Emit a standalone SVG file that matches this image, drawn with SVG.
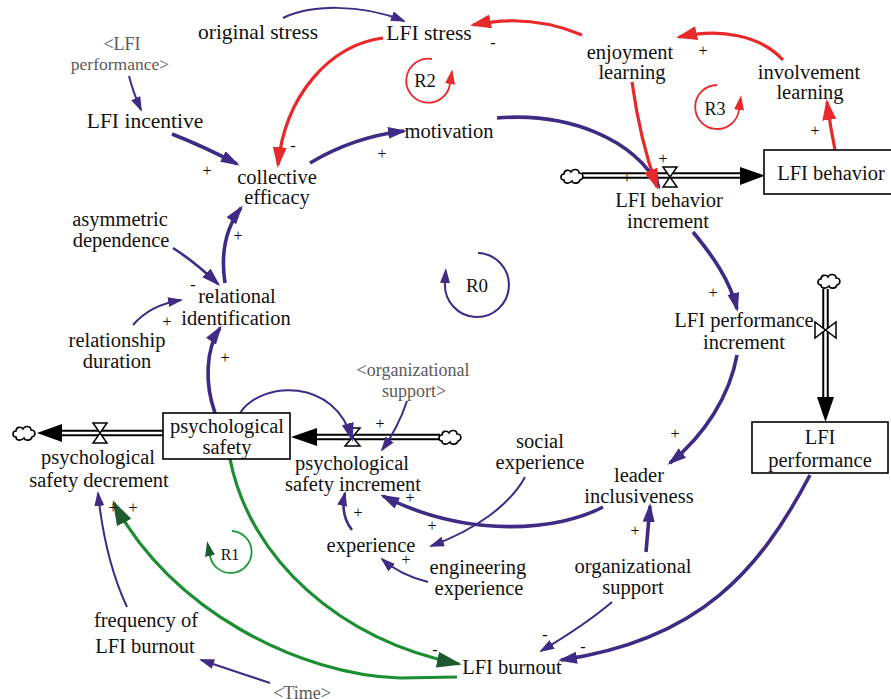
<svg xmlns="http://www.w3.org/2000/svg" width="891" height="699" viewBox="0 0 891 699">
<style>
text{font-family:"Liberation Serif","Times New Roman",serif;font-size:20.5px;fill:#111;text-anchor:middle}
.g{fill:#5a5a5a;font-size:18px}
.s{font-size:16px;fill:#000}
.lp{fill:none;stroke:#3f2a84;stroke-width:3.6}
.lpt{fill:none;stroke:#3f2a84;stroke-width:2}
.lr{fill:none;stroke:#e8282b;stroke-width:3.2}
.lg{fill:none;stroke:#1c8d32;stroke-width:3.2}
.box{fill:#fff;stroke:#000;stroke-width:1.6}
.po{fill:none;stroke:#000;stroke-width:6.5}
.pi{fill:none;stroke:#fff;stroke-width:2.5}
.valve{fill:#fff;stroke:#000;stroke-width:1.5}
.cl{fill:#fff;stroke:#000;stroke-width:1.6}
</style>
<defs>
<marker id="ap" markerUnits="userSpaceOnUse" markerWidth="20" markerHeight="14" refX="16" refY="6" orient="auto"><path d="M0,0 L19,6 L0,12 z" fill="#3f2a84"/></marker>
<marker id="aps" markerUnits="userSpaceOnUse" markerWidth="16" markerHeight="12" refX="13" refY="5" orient="auto"><path d="M0,0 L15,5 L0,10 z" fill="#3f2a84"/></marker>
<marker id="ar" markerUnits="userSpaceOnUse" markerWidth="22" markerHeight="16" refX="18" refY="7" orient="auto"><path d="M0,0 L21,7 L0,14 z" fill="#e8282b"/></marker>
<marker id="ag" markerUnits="userSpaceOnUse" markerWidth="26" markerHeight="18" refX="22" refY="8" orient="auto"><path d="M0,0 L25,8 L0,16 z" fill="#1e5a2e"/></marker>
<marker id="alp" markerUnits="userSpaceOnUse" markerWidth="16" markerHeight="12" refX="0" refY="5" orient="auto"><path d="M0,0 L15,5 L0,10 z" fill="#3f2a84"/></marker>
<marker id="alr" markerUnits="userSpaceOnUse" markerWidth="16" markerHeight="12" refX="0" refY="5" orient="auto"><path d="M0,0 L15,5 L0,10 z" fill="#e8282b"/></marker>
<marker id="alg" markerUnits="userSpaceOnUse" markerWidth="16" markerHeight="12" refX="0" refY="5" orient="auto"><path d="M0,0 L15,5 L0,10 z" fill="#1e5a2e"/></marker>
<path id="cloud" d="M4,12 C0,12 0,6 4,6 C4,2 9,1 11,4 C13,0 19,1 19,5 C24,5 24,11 20,12 C19,16 13,16 12,13 C9,16 4,16 4,12 Z"/>
</defs>

<g id="pipes">
  <path class="po" d="M582 175.5 H742"/><path class="pi" d="M582 175.5 H743"/>
  <path d="M740 167 L765 175.5 L740 185 z" fill="#000"/>
  <use href="#cloud" class="cl" x="560" y="168"/>
  <path class="valve" d="M663 167 H677 L663 187 H677 Z"/>
  <path class="po" d="M60 433 H163"/><path class="pi" d="M59 433 H163"/>
  <path d="M62 424 L37 433 L62 442 z" fill="#000"/>
  <use href="#cloud" class="cl" x="12" y="425"/>
  <path class="valve" d="M93 423 H107 L93 443 H107 Z"/>
  <path class="po" d="M315 437 H440"/><path class="pi" d="M314 437 H440"/>
  <path d="M317 428 L291 437 L317 446 z" fill="#000"/>
  <use href="#cloud" class="cl" x="438" y="429"/>
  <path class="valve" d="M345 428 H360 L345 446 H360 Z"/>
  <path class="po" d="M825.5 289 V399"/><path class="pi" d="M825.5 289 V400"/>
  <path d="M817 397 L825.5 422 L834 397 z" fill="#000"/>
  <use href="#cloud" class="cl" x="817" y="273"/>
  <path class="valve" d="M815 322 V338 L836 322 V338 Z"/>
</g>

<g id="connectors">
  <path class="lpt" marker-end="url(#aps)" d="M129 76 Q133 92 141 110"/>
  <path class="lp" marker-end="url(#ap)" d="M172 134 Q205 147 237 164"/>
  <path class="lpt" marker-end="url(#aps)" d="M283 18 C310 5 360 3 404 21"/>
  <path class="lr" marker-end="url(#ar)" d="M383 38 C330 45 285 95 278 165"/>
  <path class="lp" marker-end="url(#ap)" d="M310 163 C340 145 370 135 404 131"/>
  <path class="lp" marker-end="url(#ap)" d="M497 118 C570 112 635 140 659 187"/>
  <path class="lr" marker-end="url(#ar)" d="M582 35 Q530 13 473 25"/>
  <path class="lr" marker-end="url(#ar)" d="M632 82 Q640 140 657 187"/>
  <path class="lr" marker-end="url(#ar)" d="M783 60 C760 35 720 28 679 37"/>
  <path class="lr" marker-end="url(#ar)" d="M835 150 Q830 125 827 102"/>
  <path class="lpt" style="stroke-width:2.6" marker-end="url(#ap)" d="M173 248 Q195 262 218 284"/>
  <path class="lpt" marker-end="url(#aps)" d="M133 325 Q150 305 181 300"/>
  <path class="lp" marker-end="url(#ap)" d="M225 283 C220 250 228 225 241 208"/>
  <path class="lp" marker-end="url(#ap)" d="M215 413 C205 385 205 350 220 328"/>
  <path class="lpt" marker-end="url(#ap)" d="M240 413 C262 380 335 378 352 439"/>
  <path class="lpt" marker-end="url(#aps)" d="M407 401 Q398 428 382 450"/>
  <path class="lp" marker-end="url(#ap)" d="M603 507 C560 530 470 540 383 496"/>
  <path class="lpt" marker-end="url(#aps)" d="M525 477 C510 505 475 530 431 546"/>
  <path class="lpt" marker-end="url(#aps)" d="M428 582 Q400 575 382 559"/>
  <path class="lpt" style="stroke-width:2.6" marker-end="url(#aps)" d="M352 530 Q340 515 345 493"/>
  <path class="lp" marker-end="url(#ap)" d="M693 232 C712 255 730 280 737 309"/>
  <path class="lp" marker-end="url(#ap)" d="M737 355 C730 395 705 435 670 463"/>
  <path class="lp" marker-end="url(#ap)" d="M646 552 Q648 530 650 506"/>
  <path class="lpt" marker-end="url(#aps)" d="M612 602 Q585 625 541 651"/>
  <path class="lp" marker-end="url(#ap)" d="M810 475 C760 570 700 640 561 660"/>
  <path class="lg" marker-end="url(#ag)" d="M230 459 C250 560 340 640 459 664"/>
  <path class="lg" marker-end="url(#ag)" d="M457 677 L400 678 C300 675 170 610 114 503"/>
  <path class="lpt" marker-end="url(#aps)" d="M127 607 Q105 560 98 493"/>
  <path class="lpt" marker-end="url(#aps)" d="M270 683 L201 660"/>

  <g id="polarities">
    <text class="s" x="207" y="176">+</text>
    <text class="s" x="293" y="151">-</text>
    <text class="s" x="382" y="159">+</text>
    <text class="s" x="493" y="48">-</text>
    <text class="s" x="703" y="56">+</text>
    <text class="s" x="663" y="164">+</text>
    <text class="s" x="627" y="183">+</text>
    <text class="s" x="815" y="136">+</text>
    <text class="s" x="193" y="290">-</text>
    <text class="s" x="167" y="327">+</text>
    <text class="s" x="238" y="241">+</text>
    <text class="s" x="225" y="363">+</text>
    <text class="s" x="380" y="429">+</text>
    <text class="s" x="410" y="503">+</text>
    <text class="s" x="432" y="531">+</text>
    <text class="s" x="406" y="565">+</text>
    <text class="s" x="358" y="518">+</text>
    <text class="s" x="713" y="298">+</text>
    <text class="s" x="675" y="439">+</text>
    <text class="s" x="635" y="536">+</text>
    <text class="s" x="545" y="640">-</text>
    <text class="s" x="583" y="652">-</text>
    <text class="s" x="435" y="655">-</text>
    <text class="s" x="113" y="513">+</text>
    <text class="s" x="133" y="513">+</text>
  </g>
</g>

<g id="loop-R0">
  <path fill="none" stroke="#3f2a84" stroke-width="2" marker-end="url(#alp)" d="M478 253 A32 32 0 1 1 445 283"/>
  <text x="477" y="292" style="font-size:19px">R0</text>
</g>
<g id="loop-R1">
  <path fill="none" stroke="#1c9a3a" stroke-width="1.8" marker-end="url(#alg)" d="M232 531 A21 21 0 1 1 210 556"/>
  <text x="230" y="560" style="font-size:16px">R1</text>
</g>
<g id="loop-R2">
  <path fill="none" stroke="#e8282b" stroke-width="1.8" marker-end="url(#alr)" d="M432 59 A22 22 0 1 0 450 84"/>
  <text x="425" y="87" style="font-size:18.5px">R2</text>
</g>
<g id="loop-R3">
  <path fill="none" stroke="#e8282b" stroke-width="1.8" marker-end="url(#alr)" d="M717 85 A22 22 0 1 0 739 110"/>
  <text x="715" y="115" style="font-size:18px">R3</text>
</g>

<g id="lfi-performance-shadow"><text class="g" x="122" y="50">&lt;LFI</text><text class="g" x="120" y="70" style="font-size:17.5px">performance&gt;</text></g>
<g id="original-stress"><text x="258" y="39" style="font-size:21.5px">original stress</text></g>
<g id="lfi-stress"><text x="429" y="40" style="font-size:21.5px">LFI stress</text></g>
<g id="enjoyment-learning"><text x="630" y="59">enjoyment</text><text x="632" y="79">learning</text></g>
<g id="involvement-learning"><text x="809" y="79">involvement</text><text x="810" y="99">learning</text></g>
<g id="lfi-incentive"><text x="145" y="128" style="font-size:21.5px">LFI incentive</text></g>
<g id="motivation"><text x="449" y="138">motivation</text></g>
<g id="collective-efficacy"><text x="277" y="184">collective</text><text x="277" y="204">efficacy</text></g>
<g id="lfi-behavior"><rect class="box" x="764" y="150" width="140" height="44"/><text x="831" y="180">LFI behavior</text></g>
<g id="lfi-behavior-increment"><text x="669" y="207">LFI behavior</text><text x="668" y="228">increment</text></g>
<g id="asymmetric-dependence"><text x="120" y="226">asymmetric</text><text x="121" y="247">dependence</text></g>
<g id="relational-identification"><text x="237" y="303">relational</text><text x="236" y="325">identification</text></g>
<g id="relationship-duration"><text x="117" y="347">relationship</text><text x="117" y="368">duration</text></g>
<g id="psychological-safety"><rect class="box" x="163" y="413" width="127" height="46"/><text x="227" y="433">psychological</text><text x="227" y="454">safety</text></g>
<g id="psychological-safety-decrement"><text x="98" y="464">psychological</text><text x="99" y="487">safety decrement</text></g>
<g id="psychological-safety-increment"><text x="352" y="470">psychological</text><text x="353" y="491">safety increment</text></g>
<g id="organizational-support-shadow"><text class="g" x="413" y="376">&lt;organizational</text><text class="g" x="414" y="397">support&gt;</text></g>
<g id="social-experience"><text x="540" y="448">social</text><text x="540" y="469">experience</text></g>
<g id="leader-inclusiveness"><text x="639" y="482">leader</text><text x="639" y="503">inclusiveness</text></g>
<g id="experience"><text x="371" y="552">experience</text></g>
<g id="engineering-experience"><text x="478" y="574">engineering</text><text x="479" y="595">experience</text></g>
<g id="organizational-support"><text x="633" y="573">organizational</text><text x="633" y="594">support</text></g>
<g id="lfi-performance-increment"><text x="744" y="327">LFI performance</text><text x="744" y="349">increment</text></g>
<g id="lfi-performance"><rect class="box" x="752" y="422" width="136" height="51"/><text x="820" y="444">LFI</text><text x="820" y="467">performance</text></g>
<g id="lfi-burnout"><text x="512" y="674">LFI burnout</text></g>
<g id="frequency-of-lfi-burnout"><text x="146" y="627">frequency of</text><text x="145" y="653">LFI burnout</text></g>
<g id="time-shadow"><text class="g" x="302" y="699">&lt;Time&gt;</text></g>
</svg>
